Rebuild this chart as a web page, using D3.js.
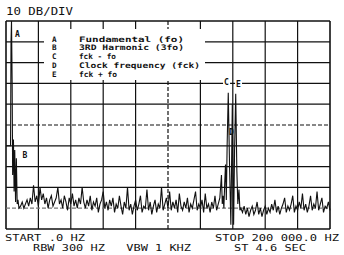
<!DOCTYPE html>
<html>
<head>
<meta charset="utf-8">
<script src="https://cdn.jsdelivr.net/npm/d3@7"></script>
<style>
    body { margin: 0; background: #fff; }
    svg text { font-family: "DejaVu Sans Mono", monospace; fill: #111; }
</style>
</head>
<body>
<svg width="344" height="255"></svg>
<script>
    // grid: 0..200 kHz (20 kHz/div), 10 dB/div, top of screen = 0 dB
    var gridKHz = [0, 20, 40, 60, 80, 100, 120, 140, 160, 180, 200];
    var gridDB = [0, -10, -20, -30, -40, -50, -60, -70, -80, -90, -100];

    // fundamental (A) + 3rd harmonic (B) near 0 Hz
    var leftKHz = [0, 2.8, 3.1, 3.4, 3.8, 4.1, 4.6, 5.0, 5.4, 5.9, 6.4, 6.9, 7.4];
    var leftDB = [-60, -60, -10, 0, -30, -74, -57, -82, -62, -87, -66, -88, -86];

    // noise floor 8..132 kHz, 1 kHz apart
    var floorLowStart = 8;
    var floorLowDB = [
        -90, -89, -87, -90, -88, -86, -89, -85, -88, -79, -87, -84, -89, -80, -86, -83, -88, -85, -90, -86,
        -84, -89, -87, -85, -80, -88, -86, -90, -84, -87, -91, -85, -88, -83, -89, -86, -90, -85, -88, -80,
        -87, -90, -86, -89, -84, -91, -87, -89, -85, -92, -88, -86, -82, -90, -87, -91, -86, -89, -85, -92,
        -88, -90, -84, -89, -93, -87, -90, -80, -91, -88, -93, -89, -86, -91, -88, -84, -92, -89, -90, -81,
        -91, -87, -93, -89, -86, -92, -88, -90, -80, -91, -88, -85, -90, -82, -91, -87, -90, -86, -92, -83,
        -89, -91, -87, -90, -85, -92, -88, -90, -86, -82, -91, -88, -90, -86, -92, -83, -90, -88, -92, -87,
        -90, -84, -91, -88, -85
    ];

    // clock region: C = fck - fo, D = fck, E = fck + fo
    var clusterKHz = [133, 133.5, 134, 134.5, 135, 135.5, 136, 136.5, 137.2, 138.0, 138.8, 139.7, 140.5, 141.1, 141.8, 142.5, 143.1, 143.8, 144.4];
    var clusterDB = [-74, -88, -84, -90, -78, -69, -86, -60, -34.5, -70, -98, -40, -98, -62, -35, -72, -88, -81, -91];

    // noise floor 145..200 kHz
    var floorHighStart = 145;
    var floorHighDB = [
        -90, -92, -89, -93, -90, -94, -91, -89, -93, -91, -87, -93, -90, -94, -91, -89, -93, -90, -92, -88,
        -91, -86, -92, -89, -93, -90, -88, -85, -92, -89, -91, -88, -84, -92, -89, -91, -87, -90, -83, -91,
        -88, -92, -89, -84, -91, -88, -90, -82, -91, -88, -85, -92, -89, -90, -87, -91
    ];

    var legendKeys = ["A", "B", "C", "D", "E"];
    var legendText = ["Fundamental (fo)", "3RD Harmonic (3fo)", "fck - fo", "Clock frequency (fck)", "fck + fo"];
    var legendWidth = [105, 105, 37, 121, 38];

    var markLetters = ["A", "B", "C", "D", "E"];
    var markKHz = [5.6, 10.2, 134.6, 137.7, 142];
    var markDB = [-7.7, -66.1, -31, -55, -31.5];

    var svg = d3.select("svg");
    var x = d3.scaleLinear().domain([0, 200]).range([6, 330]);
    var y = d3.scaleLinear().domain([-100, 0]).range([229, 21]);

    // graticule
    var grid = svg.append("g").attr("stroke", "#111").attr("fill", "none");
    grid.selectAll(".v").data(gridKHz).enter().append("line")
        .attr("x1", function (d) { return x(d); }).attr("x2", function (d) { return x(d); })
        .attr("y1", y(0)).attr("y2", y(-100))
        .attr("stroke-width", function (d) { return (d === 0 || d === 200) ? 1.6 : 1.2; })
        .attr("stroke-dasharray", function (d) { return d === 100 ? "4,2" : null; });
    grid.selectAll(".h").data(gridDB).enter().append("line")
        .attr("y1", function (d) { return y(d); }).attr("y2", function (d) { return y(d); })
        .attr("x1", x(0)).attr("x2", x(200))
        .attr("stroke-width", function (d) { return (d === 0 || d === -100) ? 1.6 : 1.2; })
        .attr("stroke", function (d) { return d === -90 ? "#777" : "#111"; })
        .attr("stroke-dasharray", function (d) { return (d === -50 || d === -90) ? "4,2" : null; });

    // legend box
    svg.append("rect").attr("x", 44).attr("y", 29).attr("width", 161).attr("height", 51).attr("fill", "#fff");
    var leg = svg.append("g").attr("font-size", "7.6px").attr("font-weight", "bold");
    leg.selectAll(".k").data(legendKeys).enter().append("text")
        .attr("x", 52).attr("y", function (d, i) { return 41.5 + i * 8.9; })
        .text(function (d) { return d; });
    leg.selectAll(".t").data(legendText).enter().append("text")
        .attr("x", 79).attr("y", function (d, i) { return 41.5 + i * 8.9; })
        .attr("textLength", function (d, i) { return legendWidth[i]; })
        .attr("lengthAdjust", "spacingAndGlyphs")
        .text(function (d) { return d; });

    // trace
    var pts = [];
    leftKHz.forEach(function (f, i) { pts.push([f, leftDB[i]]); });
    floorLowDB.forEach(function (v, i) { pts.push([floorLowStart + i, v]); });
    clusterKHz.forEach(function (f, i) { pts.push([f, clusterDB[i]]); });
    floorHighDB.forEach(function (v, i) { pts.push([floorHighStart + i, v]); });

    var line = d3.line().x(function (d) { return x(d[0]); }).y(function (d) { return y(d[1]); });
    svg.append("path").datum(pts).attr("d", line)
        .attr("fill", "none").attr("stroke", "#111").attr("stroke-width", 1.1)
        .attr("stroke-linejoin", "miter");

    // peak letters
    var marks = svg.append("g").attr("font-size", "8px").attr("font-weight", "bold");
    markLetters.forEach(function (m, i) {
        var t = marks.append("text").attr("x", x(markKHz[i])).attr("y", y(markDB[i])).text(m);
        if (m === "C" || m === "E") {
            var b = t.node().getBBox();
            marks.insert("rect", "text").attr("x", b.x - 1).attr("y", b.y).attr("width", b.width + 2)
                .attr("height", b.height).attr("fill", "#fff");
        }
    });

    // titles
    svg.append("text").attr("x", 6).attr("y", 15).attr("font-size", "11px")
        .attr("textLength", 67).attr("lengthAdjust", "spacingAndGlyphs").text("10 DB/DIV");
    var foot = [
        ["START .0 HZ", 5, 240.5, 80],
        ["RBW 300 HZ   VBW 1 KHZ", 33, 250.5, 158],
        ["STOP 200 000.0 HZ", 215, 240.5, 124],
        ["ST 4.6 SEC", 234, 250.5, 72]
    ];
    svg.selectAll(".foot").data(foot).enter().append("text")
        .attr("x", function (d) { return d[1]; }).attr("y", function (d) { return d[2]; })
        .attr("font-size", "9.5px").attr("xml:space", "preserve").style("white-space", "pre")
        .attr("textLength", function (d) { return d[3]; }).attr("lengthAdjust", "spacingAndGlyphs")
        .text(function (d) { return d[0]; });
</script>
</body>
</html>
